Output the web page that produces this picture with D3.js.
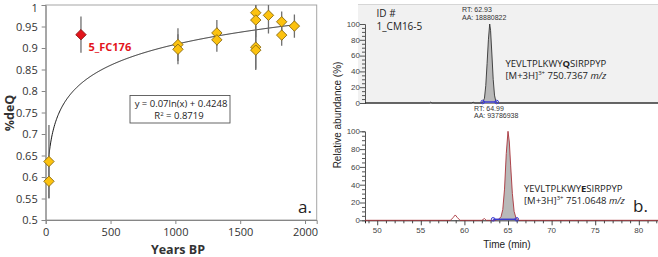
<!DOCTYPE html>
<html lang="en">
<head>
  <meta charset="UTF-8">
  <title>deQ vs age</title>
  <script src="https://d3js.org/d3.v7.min.js"></script>
  <style>
    body { margin: 0; background: #fff; }
    svg { display: block; }
    .cal { font-family: "Open Sans", "Liberation Sans", sans-serif; }
    .ari { font-family: "Liberation Sans", Arial, sans-serif; }
  </style>
</head>
<body>
<div id="chart"></div>
<script>
// ---- panel a data
var years = [25, 25, 272, 1020, 1020, 1320, 1320, 1620, 1620, 1620, 1620, 1718, 1820, 1820, 1918];
var deq   = [0.636, 0.590, 0.931, 0.908, 0.897, 0.935, 0.919, 0.982, 0.965, 0.902, 0.895, 0.976, 0.961, 0.930, 0.951];
var errs  = [0.085, 0.040, 0.042, 0.038, 0.035, 0.030, 0.028, 0.020, 0.040, 0.050, 0.046, 0.042, 0.024, 0.025, 0.027];
var outlier = 2;  // 5_FC176
var fitA = 0.07, fitB = 0.4248;
var xTicksA = [0, 500, 1000, 1500, 2000];
var yTicksA = [0.5, 0.55, 0.6, 0.65, 0.7, 0.75, 0.8, 0.85, 0.9, 0.95, 1];

// ---- panel b data (time in min, relative abundance %)
var traceQ = [[48.6,0],[56.0,0],[56.1,1],[56.3,0],[60.8,0],[61.0,1],[61.2,0],[61.9,0],[62.1,1],
  [62.3,6],[62.45,22],[62.6,50],[62.75,80],[62.9,100],[63.0,92],[63.15,62],[63.3,30],[63.45,10],
  [63.6,2],[63.8,0],[82.2,0]];
var traceE = [[48.6,0],[58.4,0],[58.7,3],[58.95,6],[59.2,3],[59.5,0],[62.0,0],[62.3,2],[62.5,0],
  [63.5,0],[63.9,1],[64.2,4],[64.4,12],[64.6,35],[64.8,75],[65.0,100],[65.15,88],[65.3,62],
  [65.5,30],[65.7,10],[65.9,3],[66.2,0],[82.2,0]];
var intQ = [62.1, 63.7];
var intE = [63.3, 66.0];
var xTicksB = [50, 55, 60, 65, 70, 75, 80];
var yTicksB = [0, 20, 40, 60, 80, 100];

var W = 658, H = 257;
var svg = d3.select('#chart').append('svg').attr('width', W).attr('height', H);

// ================= panel a =================
var xA = d3.scaleLinear().domain([0, 2090]).range([45.7, 316.7]);
var yA = d3.scaleLinear().domain([0.5, 1]).range([220, 5]);

var ga = svg.append('g');
ga.append('rect')
  .attr('x', xA.range()[0]).attr('y', yA.range()[1])
  .attr('width', xA.range()[1] - xA.range()[0]).attr('height', yA.range()[0] - yA.range()[1])
  .attr('fill', 'none').attr('stroke', '#a6a6a6').attr('stroke-width', 1);

var axL = ga.append('g').attr('transform', 'translate(' + xA.range()[0] + ',0)')
  .call(d3.axisLeft(yA).tickValues(yTicksA).tickSize(4).tickPadding(4)
    .tickFormat(function(d) { return String(+d.toFixed(2)); }));
var axB = ga.append('g').attr('transform', 'translate(0,' + yA.range()[0] + ')')
  .call(d3.axisBottom(xA).tickValues(xTicksA).tickSize(4).tickPadding(4)
    .tickFormat(function(d) { return String(d); }));
[axL, axB].forEach(function(a) {
  a.select('.domain').attr('stroke', '#868686');
  a.selectAll('.tick line').attr('stroke', '#868686');
  a.selectAll('text').attr('class', 'cal').attr('font-size', 11).attr('fill', '#333');
});
axL.selectAll('.tick').filter(function(d) { return d === 1; }).select('text').attr('dy', '0.6em');

ga.append('text').attr('class', 'cal').attr('font-weight', 'bold').attr('font-size', 12.5)
  .attr('transform', 'translate(9,113) rotate(-90)').attr('text-anchor', 'middle')
  .attr('dominant-baseline', 'central').attr('fill', '#333').text('%deQ');
ga.append('text').attr('class', 'cal').attr('font-weight', 'bold').attr('font-size', 12.5)
  .attr('x', 178).attr('y', 254).attr('text-anchor', 'middle').attr('fill', '#333').text('Years BP');

// trendline
var fitX = d3.range(18, 1925, 4);
var line = d3.line().x(function(d) { return xA(d); }).y(function(d) { return yA(fitA * Math.log(d) + fitB); })
  .curve(d3.curveBasis);
ga.append('path').datum(fitX)
  .attr('d', line).attr('fill', 'none').attr('stroke', '#1a1a1a').attr('stroke-width', 1);

// error bars, clipped
ga.append('clipPath').attr('id', 'clipA').append('rect')
  .attr('x', xA.range()[0]).attr('y', yA.range()[1])
  .attr('width', xA.range()[1] - xA.range()[0]).attr('height', yA.range()[0] - yA.range()[1]);
var idx = d3.range(years.length);
ga.append('g').attr('clip-path', 'url(#clipA)').selectAll('line').data(idx).enter().append('line')
  .attr('x1', function(i) { return xA(years[i]); }).attr('x2', function(i) { return xA(years[i]); })
  .attr('y1', function(i) { return yA(deq[i] + errs[i]); }).attr('y2', function(i) { return yA(deq[i] - errs[i]); })
  .attr('stroke', '#6f6f6f').attr('stroke-width', 1.3);

// diamonds
var dm = 5.2;
var diamond = 'M0,' + (-dm) + 'L' + dm + ',0L0,' + dm + 'L' + (-dm) + ',0Z';
ga.append('g').selectAll('path').data(idx).enter().append('path')
  .attr('d', diamond)
  .attr('transform', function(i) { return 'translate(' + xA(years[i]) + ',' + yA(deq[i]) + ')'; })
  .attr('fill', function(i) { return i === outlier ? '#e3141b' : '#fcc20f'; })
  .attr('stroke', function(i) { return i === outlier ? '#8a1010' : '#8a6a10'; })
  .attr('stroke-width', 0.9);

ga.append('text').attr('class', 'cal').attr('font-weight', 'bold').attr('font-size', 11)
  .attr('x', xA(years[outlier]) + 7.5).attr('y', yA(deq[outlier]) + 16)
  .attr('fill', '#e3141b').text('5_FC176');

// equation box
ga.append('rect').attr('x', 130).attr('y', 95.5).attr('width', 100).attr('height', 27.5)
  .attr('fill', '#fff').attr('stroke', '#555').attr('stroke-width', 0.9);
ga.append('text').attr('class', 'cal').attr('font-size', 9.5).attr('fill', '#222')
  .attr('x', 181).attr('y', 106.5).attr('text-anchor', 'middle').text('y = 0.07ln(x) + 0.4248');
var r2 = ga.append('text').attr('class', 'cal').attr('font-size', 9.5).attr('fill', '#222')
  .attr('x', 179).attr('y', 119).attr('text-anchor', 'middle');
r2.append('tspan').text('R');
r2.append('tspan').attr('font-size', 6).attr('dy', -3.5).text('2');
r2.append('tspan').attr('dy', 3.5).text(' = 0.8719');

ga.append('text').attr('class', 'cal').attr('font-size', 17).attr('fill', '#222')
  .attr('x', 298).attr('y', 213).text('a.');

// ================= panel b =================
var xB = d3.scaleLinear().domain([48.6, 82.2]).range([365, 658]);
var yQ = d3.scaleLinear().domain([0, 100]).range([103, 24]);
var yE = d3.scaleLinear().domain([0, 100]).range([220.3, 131.3]);

var gb = svg.append('g');
gb.append('rect').attr('x', 358).attr('y', 4).attr('width', 300).attr('height', 99)
  .attr('fill', '#f1f1f1');
gb.append('line').attr('x1', 358).attr('x2', 658).attr('y1', 4.5).attr('y2', 4.5)
  .attr('stroke', '#d6d6d6');

function yAxis(y) {
  var g = gb.append('g').attr('class', 'ari').attr('transform', 'translate(365,0)');
  g.call(d3.axisLeft(y).tickValues(d3.range(0, 101, 5)).tickSize(3).tickFormat(''));
  g.selectAll('.tick').filter(function(d) { return d % 20 === 0; }).select('line').attr('x2', -5);
  g.append('g').selectAll('text').data(yTicksB).enter().append('text')
    .attr('x', -5).attr('y', function(d) { return y(d); }).attr('dy', '0.35em')
    .attr('text-anchor', 'end').attr('font-size', 8).attr('fill', '#444').text(function(d) { return d; });
  g.select('.domain').attr('stroke', '#555');
  g.selectAll('.tick line').attr('stroke', '#555');
}
yAxis(yQ);
yAxis(yE);

// baselines
gb.append('line').attr('x1', 365).attr('x2', 658).attr('y1', yQ(0)).attr('y2', yQ(0)).attr('stroke', '#222');
var axX = gb.append('g').attr('class', 'ari').attr('transform', 'translate(0,' + yE(0) + ')')
  .call(d3.axisBottom(xB).tickValues(d3.range(49, 83, 1)).tickSize(3).tickFormat(''));
axX.selectAll('.tick').filter(function(d) { return d % 5 === 0; }).select('line').attr('y2', 5);
axX.select('.domain').attr('stroke', '#222');
axX.selectAll('.tick line').attr('stroke', '#444');
gb.append('g').selectAll('text').data(xTicksB).enter().append('text').attr('class', 'ari')
  .attr('x', function(d) { return xB(d); }).attr('y', yE(0) + 13).attr('text-anchor', 'middle')
  .attr('font-size', 8).attr('fill', '#444').text(function(d) { return d; });

gb.append('text').attr('class', 'ari').attr('font-size', 10).attr('fill', '#222')
  .attr('x', 507).attr('y', 248).attr('text-anchor', 'middle').text('Time (min)');
gb.append('text').attr('class', 'ari').attr('font-size', 10).attr('fill', '#222')
  .attr('transform', 'translate(341,115) rotate(-90)').attr('text-anchor', 'middle')
  .text('Relative abundance (%)');

// traces
function drawTrace(data, y, range, col) {
  var area = d3.area().x(function(d) { return xB(d[0]); }).y0(y(0)).y1(function(d) { return y(d[1]); });
  var inRange = data.filter(function(d) { return d[0] >= range[0] && d[0] <= range[1]; });
  gb.append('path').datum(inRange).attr('d', area).attr('fill', '#b9b9b9');
  gb.append('path').datum(data)
    .attr('d', d3.line().x(function(d) { return xB(d[0]); }).y(function(d) { return y(d[1]); }))
    .attr('fill', 'none').attr('stroke', col).attr('stroke-width', 0.9);
  gb.append('line').attr('x1', xB(range[0])).attr('x2', xB(range[1])).attr('y1', y(0) - 1).attr('y2', y(0) - 1)
    .attr('stroke', '#3b3bd0').attr('stroke-width', 1.5);
  gb.append('g').selectAll('circle').data(range).enter().append('circle')
    .attr('cx', function(d) { return xB(d); }).attr('cy', y(0) - 1).attr('r', 1.8)
    .attr('fill', 'none').attr('stroke', '#3b3bd0').attr('stroke-width', 1);
}
drawTrace(traceQ, yQ, intQ, '#333');
drawTrace(traceE, yE, intE, '#a8323a');

// annotations
function small(x, y, t) {
  gb.append('text').attr('class', 'ari').attr('font-size', 7).attr('fill', '#333')
    .attr('x', x).attr('y', y).text(t);
}
small(462, 12, 'RT: 62.93');
small(462, 20, 'AA: 18880822');
small(474, 110.5, 'RT: 64.99');
small(474, 118, 'AA: 93786938');

function cal(x, y, size) {
  return gb.append('text').attr('class', 'cal').attr('font-size', size).attr('fill', '#222')
    .attr('x', x).attr('y', y);
}
cal(376.5, 17, 10).text('ID #');
cal(376.5, 30, 10).text('1_CM16-5');

function peptide(x, y, pre, aa, post, mz) {
  var t = cal(x, y, 9.5);
  t.append('tspan').text(pre);
  t.append('tspan').attr('font-weight', 'bold').text(aa);
  t.append('tspan').text(post);
  var m = cal(x, y + 12, 9.5);
  m.append('tspan').text('[M+3H]');
  m.append('tspan').attr('font-size', 6).attr('dy', -4).text('3+');
  m.append('tspan').attr('dy', 4).text(' ' + mz + ' ');
  m.append('tspan').attr('font-style', 'italic').text('m/z');
}
peptide(505.5, 67, 'YEVLTPLKWY', 'Q', 'SIRPPYP', '750.7367');
peptide(524, 192, 'YEVLTPLKWY', 'E', 'SIRPPYP', '751.0648');

cal(633, 212, 17).text('b.');
</script>
</body>
</html>
